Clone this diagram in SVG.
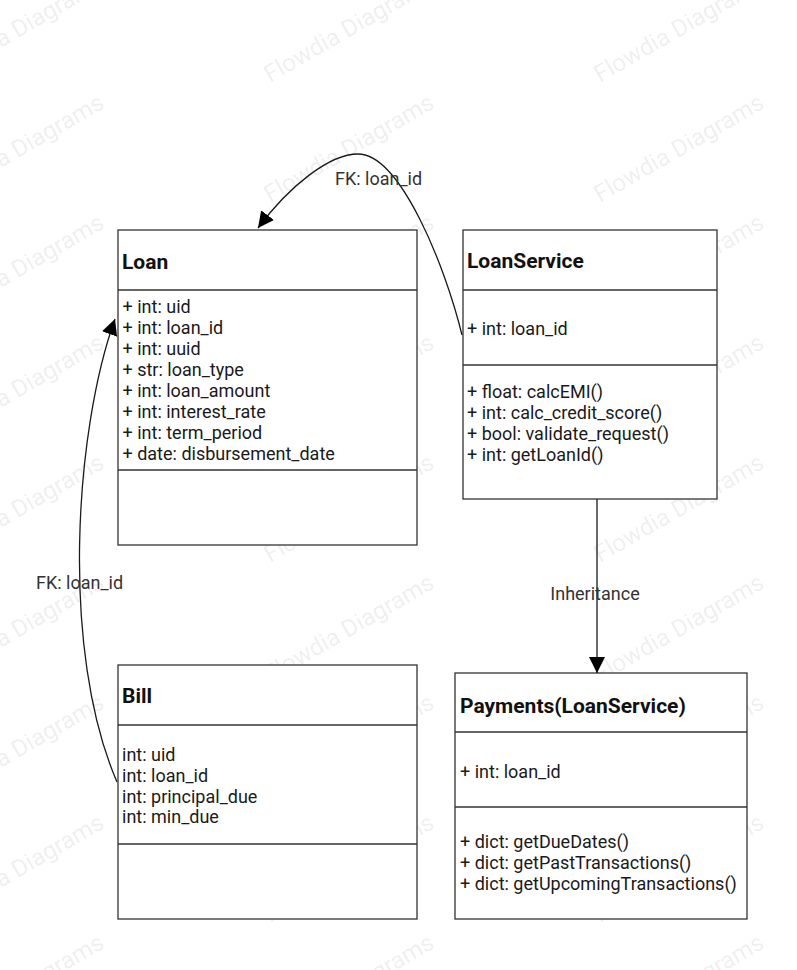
<svg xmlns="http://www.w3.org/2000/svg" xmlns:xlink="http://www.w3.org/1999/xlink" width="797" height="970" viewBox="0 0 797 970">
  <style>
    .box { fill: #ffffff; stroke: #333333; stroke-width: 1.3; }
    .div { stroke: #333333; stroke-width: 1.3; fill: none; }
    .title { font-family: Roboto, "Liberation Sans", sans-serif; font-size: 21px; font-weight: bold; fill: #111111; }
    .txt { font-family: Roboto, "Liberation Sans", sans-serif; font-size: 18px; fill: #1a1a1a; }
    .lbl { font-family: Roboto, "Liberation Sans", sans-serif; font-size: 18px; fill: #333333; }
    .edge { fill: none; stroke: #1a1a1a; stroke-width: 1.3; }
    .wm { font-family: Roboto, "Liberation Sans", sans-serif; font-size: 24px; fill: #000000; fill-opacity: 0.08; }
  </style>
  <defs>
    <marker id="arrow" markerUnits="userSpaceOnUse" markerWidth="16" markerHeight="16" viewBox="0 0 16 16" refX="16" refY="8" orient="auto">
      <path d="M0,0 L16,8 L0,16 Z" fill="#000000"/>
    </marker>
    <text id="wmtext" class="wm" transform="rotate(-30)">Flowdia Diagrams</text>
  </defs>
  <rect x="0" y="0" width="797" height="970" fill="#ffffff"/>

  <g id="watermark">
    <use xlink:href="#wmtext" x="-60" y="83"/><use xlink:href="#wmtext" x="270" y="83"/><use xlink:href="#wmtext" x="600" y="83"/>
    <use xlink:href="#wmtext" x="-60" y="203"/><use xlink:href="#wmtext" x="270" y="203"/><use xlink:href="#wmtext" x="600" y="203"/>
    <use xlink:href="#wmtext" x="-60" y="323"/><use xlink:href="#wmtext" x="270" y="323"/><use xlink:href="#wmtext" x="600" y="323"/>
    <use xlink:href="#wmtext" x="-60" y="443"/><use xlink:href="#wmtext" x="270" y="443"/><use xlink:href="#wmtext" x="600" y="443"/>
    <use xlink:href="#wmtext" x="-60" y="563"/><use xlink:href="#wmtext" x="270" y="563"/><use xlink:href="#wmtext" x="600" y="563"/>
    <use xlink:href="#wmtext" x="-60" y="683"/><use xlink:href="#wmtext" x="270" y="683"/><use xlink:href="#wmtext" x="600" y="683"/>
    <use xlink:href="#wmtext" x="-60" y="803"/><use xlink:href="#wmtext" x="270" y="803"/><use xlink:href="#wmtext" x="600" y="803"/>
    <use xlink:href="#wmtext" x="-60" y="923"/><use xlink:href="#wmtext" x="270" y="923"/><use xlink:href="#wmtext" x="600" y="923"/>
    <use xlink:href="#wmtext" x="-60" y="1043"/><use xlink:href="#wmtext" x="270" y="1043"/><use xlink:href="#wmtext" x="600" y="1043"/>
  </g>

  <g id="loan">
    <rect class="box" x="118" y="230" width="299" height="315"/>
    <line class="div" x1="118" y1="290" x2="417" y2="290"/>
    <line class="div" x1="118" y1="470" x2="417" y2="470"/>
    <text class="title" x="122" y="269">Loan</text>
    <text class="txt" x="122.5" y="313">+ int: uid</text>
    <text class="txt" x="122.5" y="334">+ int: loan_id</text>
    <text class="txt" x="122.5" y="355">+ int: uuid</text>
    <text class="txt" x="122.5" y="376">+ str: loan_type</text>
    <text class="txt" x="122.5" y="397">+ int: loan_amount</text>
    <text class="txt" x="122.5" y="418">+ int: interest_rate</text>
    <text class="txt" x="122.5" y="439">+ int: term_period</text>
    <text class="txt" x="122.5" y="460">+ date: disbursement_date</text>
  </g>

  <g id="loanservice">
    <rect class="box" x="463" y="230" width="254" height="269"/>
    <line class="div" x1="463" y1="290" x2="717" y2="290"/>
    <line class="div" x1="463" y1="365" x2="717" y2="365"/>
    <text class="title" x="467" y="268">LoanService</text>
    <text class="txt" x="467" y="335">+ int: loan_id</text>
    <text class="txt" x="467" y="398">+ float: calcEMI()</text>
    <text class="txt" x="467" y="419">+ int: calc_credit_score()</text>
    <text class="txt" x="467" y="440">+ bool: validate_request()</text>
    <text class="txt" x="467" y="461">+ int: getLoanId()</text>
  </g>

  <g id="bill">
    <rect class="box" x="118" y="665" width="299" height="254"/>
    <line class="div" x1="118" y1="725" x2="417" y2="725"/>
    <line class="div" x1="118" y1="844" x2="417" y2="844"/>
    <text class="title" x="122" y="703">Bill</text>
    <text class="txt" x="122" y="761">int: uid</text>
    <text class="txt" x="122" y="782">int: loan_id</text>
    <text class="txt" x="122" y="803">int: principal_due</text>
    <text class="txt" x="122" y="823">int: min_due</text>
  </g>

  <g id="payments">
    <rect class="box" x="455" y="673" width="292" height="246"/>
    <line class="div" x1="455" y1="732" x2="747" y2="732"/>
    <line class="div" x1="455" y1="807" x2="747" y2="807"/>
    <text class="title" x="460" y="713">Payments(LoanService)</text>
    <text class="txt" x="460" y="778">+ int: loan_id</text>
    <text class="txt" x="460" y="848">+ dict: getDueDates()</text>
    <text class="txt" x="460" y="869">+ dict: getPastTransactions()</text>
    <text class="txt" x="460" y="890">+ dict: getUpcomingTransactions()</text>
  </g>

  <g id="connectors">
    <path class="edge" d="M 462 335 C 445 265, 400 154, 358 154 C 330 154, 290 185, 258 228" marker-end="url(#arrow)"/>
    <text class="lbl" x="335" y="185">FK: loan_id</text>
    <path class="edge" d="M 117 782 C 60 650, 75 430, 115 319" marker-end="url(#arrow)"/>
    <text class="lbl" x="36" y="589">FK: loan_id</text>
    <line class="edge" x1="597" y1="499" x2="597" y2="673" marker-end="url(#arrow)"/>
    <text class="lbl" x="595" y="600" text-anchor="middle">Inheritance</text>
  </g>
</svg>
